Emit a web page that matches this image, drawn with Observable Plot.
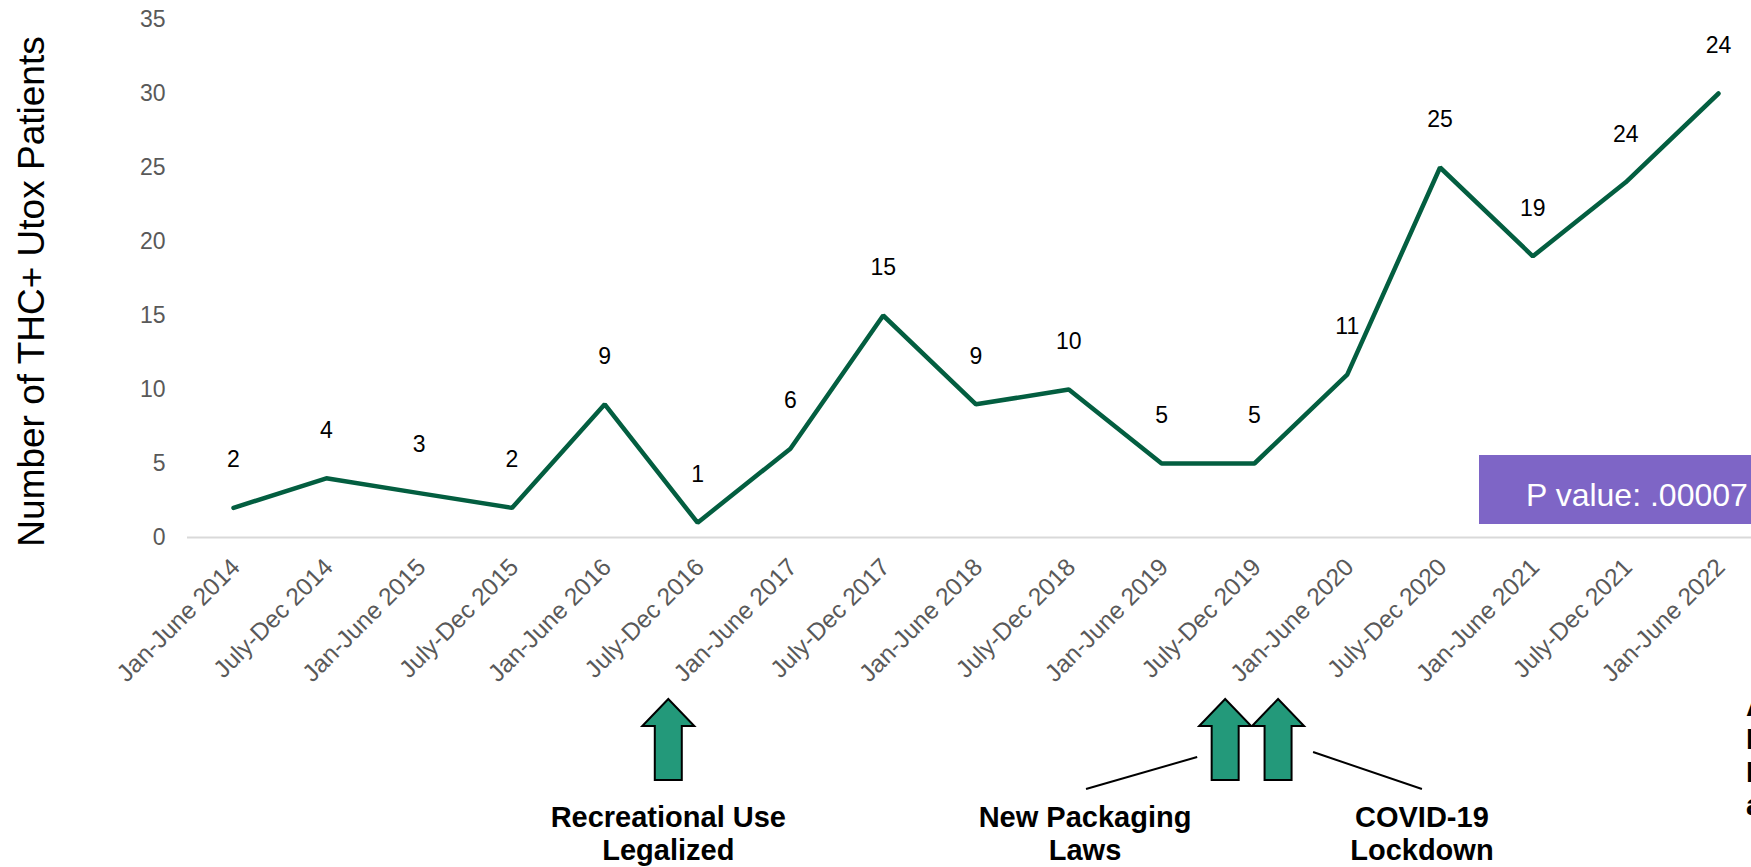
<!DOCTYPE html>
<html>
<head>
<meta charset="utf-8">
<script src="https://cdn.jsdelivr.net/npm/d3@7"></script>
<script src="https://cdn.jsdelivr.net/npm/@observablehq/plot@0.6"></script>
<style>
  html, body { margin: 0; padding: 0; background: #fff; }
  #chart svg { display: block; font-family: "Liberation Sans", Arial, sans-serif; }
</style>
</head>
<body>
<div id="chart"></div>
<script>
const categories = ["Jan-June 2014","July-Dec 2014","Jan-June 2015","July-Dec 2015","Jan-June 2016","July-Dec 2016","Jan-June 2017","July-Dec 2017","Jan-June 2018","July-Dec 2018","Jan-June 2019","July-Dec 2019","Jan-June 2020","July-Dec 2020","Jan-June 2021","July-Dec 2021","Jan-June 2022"];
const patients = [2,4,3,2,9,1,6,15,9,10,5,5,11,25,19,24,30];
const dataLabels = ["2","4","3","2","9","1","6","15","9","10","5","5","11","25","19","24","24"];
const yTicks = [0,5,10,15,20,25,30,35];
const yTitle = "Number of THC+ Utox Patients";
const pValueText = "P value: .00007";
// event positions in category-index units (time position on the axis)
const eventNames = ["Recreational Use\nLegalized", "New Packaging\nLaws", "COVID-19\nLockdown"];
const eventAt = [4.69, 10.69, 11.26];
const eventTextAt = [4.69, 9.18, 12.81];
const sideNoteLines = ["A 15-fold", "Increase in", "Positive", "admissions"];

const W = 1751, H = 867;

const plot = Plot.plot({
  width: W,
  height: H,
  marginLeft: 187,
  marginRight: 0,
  marginTop: 19,
  marginBottom: H - 537,
  style: { fontFamily: "Liberation Sans, Arial, sans-serif", background: "#fff", overflow: "hidden" },
  x: { type: "linear", domain: [0, categories.length - 1], range: [233, 1718], axis: null },
  y: { domain: [0, 35], axis: null },
  marks: [
    Plot.ruleY([0], { stroke: "#d9d9d9", strokeWidth: 2 }),
    Plot.axisY({ ticks: yTicks, tickSize: 0, tickPadding: 22, fontSize: 23, fill: "#595959", label: null }),
    Plot.text([yTitle], { frameAnchor: "left", textAnchor: "middle", dx: -155, dy: 13, rotate: -90, fontSize: 37, fill: "#000" }),
    Plot.text(categories, { x: (d, i) => i, frameAnchor: "bottom", dy: 31, dx: 8, rotate: -45, textAnchor: "end", fontSize: 24.5, fill: "#595959" }),
    Plot.line(patients, { x: (d, i) => i, y: d => d, stroke: "#035E40", strokeWidth: 4.5, strokeLinejoin: "miter" }),
    Plot.text(patients, { x: (d, i) => i, y: d => d, text: (d, i) => dataLabels[i], dy: -48, fontSize: 23, fill: "#000" })
  ]
});

document.getElementById("chart").appendChild(plot);

// Annotations positioned from the plot's own x scale
const xs = plot.scale("x");
const xScale = d3.scaleLinear().domain(xs.domain).range(xs.range);
const svg = d3.select(plot);
const ann = svg.append("g").attr("font-family", "Liberation Sans, Arial, sans-serif").attr("text-anchor", "start");

// P value box (anchored to the right edge of the frame)
ann.append("rect").attr("x", 1479).attr("y", 455).attr("width", W - 1479 + 5).attr("height", 69).attr("fill", "#7E65C6");
ann.append("text").attr("x", 1526).attr("y", 506).attr("text-anchor", "start").attr("fill", "#fff").attr("font-size", 32).text(pValueText);

// Block arrows
function arrowPath(cx) {
  const tip = 699, base = 726, bottom = 780, hw = 26, sw = 13.5;
  return `M${cx},${tip} L${cx + hw},${base} L${cx + sw},${base} L${cx + sw},${bottom} L${cx - sw},${bottom} L${cx - sw},${base} L${cx - hw},${base} Z`;
}
eventAt.forEach(a => {
  ann.append("path").attr("d", arrowPath(xScale(a))).attr("fill", "#23997A").attr("stroke", "#000").attr("stroke-width", 2).attr("stroke-linejoin", "miter");
});

// Event labels
eventNames.forEach((name, i) => {
  const t = ann.append("text").attr("text-anchor", "middle").attr("font-weight", "bold").attr("font-size", 29).attr("fill", "#000");
  name.split("\n").forEach((line, j) => {
    t.append("tspan").attr("x", xScale(eventTextAt[i])).attr("y", 827 + j * 33).text(line);
  });
});

// Callout connectors
ann.append("line").attr("x1", xScale(eventTextAt[1]) + 1).attr("y1", 789).attr("x2", xScale(eventAt[1]) - 28).attr("y2", 757).attr("stroke", "#000").attr("stroke-width", 2);
ann.append("line").attr("x1", xScale(eventAt[2]) + 35).attr("y1", 752).attr("x2", xScale(eventTextAt[2])).attr("y2", 789).attr("stroke", "#000").attr("stroke-width", 2);

// Side note cut off at the right edge (as in the reference)
const sn = ann.append("text").attr("text-anchor", "start").attr("font-weight", "bold").attr("font-size", 29).attr("fill", "#000");
sideNoteLines.forEach((line, j) => {
  sn.append("tspan").attr("x", 1746).attr("y", 716 + j * 33).text(line);
});
</script>
</body>
</html>
